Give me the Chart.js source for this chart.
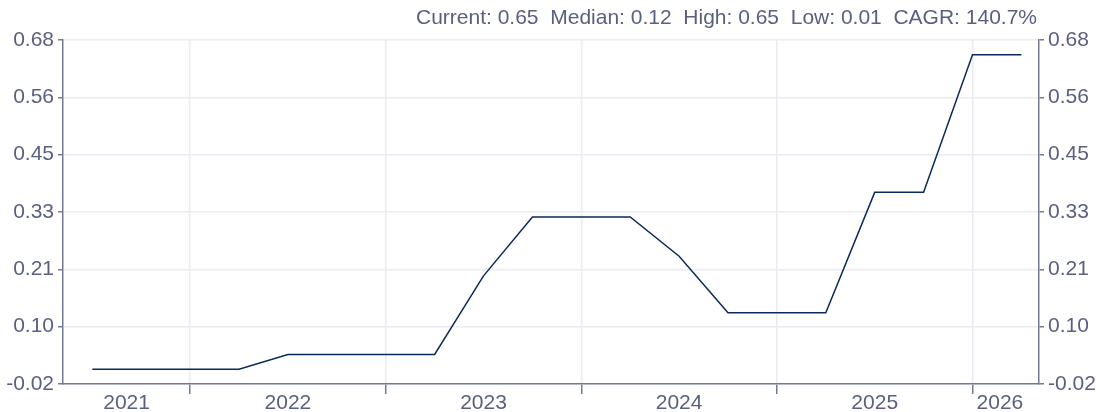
<!DOCTYPE html>
<html>
<head>
<meta charset="utf-8">
<script src="https://cdn.jsdelivr.net/npm/chart.js@4.4.1/dist/chart.umd.min.js"></script>
<style>
  body { margin: 0; background: #fff; }
  #wrap { width: 1103px; height: 412px; }
</style>
</head>
<body>
<div id="wrap"><canvas id="chart" width="1103" height="412"></canvas></div>
<script>
// quarterly values, x as fractional years
var quarters = [2021.5, 2021.75, 2022.0, 2022.25, 2022.5, 2022.75, 2023.0, 2023.25, 2023.5, 2023.75,
                2024.0, 2024.25, 2024.5, 2024.75, 2025.0, 2025.25, 2025.5, 2025.75, 2026.0, 2026.25];
var values = [0.01, 0.01, 0.01, 0.01, 0.04, 0.04, 0.04, 0.04, 0.20, 0.32,
              0.32, 0.32, 0.24, 0.125, 0.125, 0.125, 0.37, 0.37, 0.65, 0.65];

var yearLabels = ["2021", "2022", "2023", "2024", "2025", "2026"];
var yearLabelPos = [2021.675, 2022.5, 2023.5, 2024.5, 2025.5, 2026.14];
var yearBounds = [2022, 2023, 2024, 2025, 2026];

var yTicks = [-0.02, 0.0967, 0.2133, 0.33, 0.4467, 0.5633, 0.68];

var headerText = "Current: 0.65  Median: 0.12  High: 0.65  Low: 0.01  CAGR: 140.7%";

var axisColor = "#737a96";
var gridColor = "#ebebf3";
var textColor = "#5a6080";
var clear = "rgba(0,0,0,0)";
var FONT = "'Liberation Sans', Arial, sans-serif";

var points = quarters.map(function (q, i) {
  return { x: q, y: values[i] };
});

// header line drawn above plot
const headerPlugin = {
  id: "header",
  afterDraw: function (chart) {
    var c = chart.ctx;
    c.save();
    c.font = "21px " + FONT;
    c.fillStyle = textColor;
    c.textAlign = "right";
    c.textBaseline = "middle";
    c.fillText(headerText, 1037, 18);
    c.restore();
  }
};

function yAxis(position, drawGrid) {
  return {
    type: "linear",
    position: position,
    min: -0.02,
    max: 0.68,
    afterBuildTicks: function (axis) {
      axis.ticks = yTicks.map(function (v) { return { value: v }; });
    },
    afterFit: function (axis) { axis.width = position === "left" ? 63 : 64; },
    border: { color: axisColor, width: 1.5 },
    grid: {
      drawOnChartArea: drawGrid,
      color: gridColor,
      lineWidth: 1.5,
      tickColor: axisColor,
      tickLength: 5
    },
    ticks: {
      color: textColor,
      font: { family: FONT, size: 21 },
      padding: 4,
      callback: function (v) { return v.toFixed(2); }
    }
  };
}

const ctx = document.getElementById("chart").getContext("2d");
const myChart = new Chart(ctx, {
  type: "line",
  data: {
    datasets: [
      {
        data: points,
        borderColor: "#0b2a5b",
        borderWidth: 1.5,
        pointRadius: 0,
        tension: 0,
        fill: false
      }
    ]
  },
  options: {
    responsive: false,
    animation: false,
    layout: { padding: { top: 40, left: 0, right: 0, bottom: 0 } },
    plugins: { legend: { display: false }, tooltip: { enabled: false } },
    scales: {
      x: {
        type: "linear",
        min: 2021.35,
        max: 2026.34,
        afterBuildTicks: function (axis) {
          var t = yearBounds.map(function (v) { return { value: v }; });
          yearLabelPos.forEach(function (v) { t.push({ value: v }); });
          t.sort(function (a, b) { return a.value - b.value; });
          axis.ticks = t;
        },
        afterFit: function (axis) { axis.height = 28; },
        border: { color: axisColor, width: 1.5 },
        grid: {
          color: function (c) {
            return c.tick && yearBounds.indexOf(c.tick.value) >= 0 ? gridColor : clear;
          },
          tickColor: function (c) {
            return c.tick && yearBounds.indexOf(c.tick.value) >= 0 ? axisColor : clear;
          },
          lineWidth: 1.5,
          tickLength: 10
        },
        ticks: {
          color: textColor,
          font: { family: FONT, size: 21 },
          padding: -3,
          maxRotation: 0,
          autoSkip: false,
          callback: function (v) {
            var i = yearLabelPos.indexOf(v);
            return i >= 0 ? yearLabels[i] : "";
          }
        }
      },
      y: yAxis("left", true),
      y2: yAxis("right", false)
    }
  },
  plugins: [headerPlugin]
});
</script>
</body>
</html>
